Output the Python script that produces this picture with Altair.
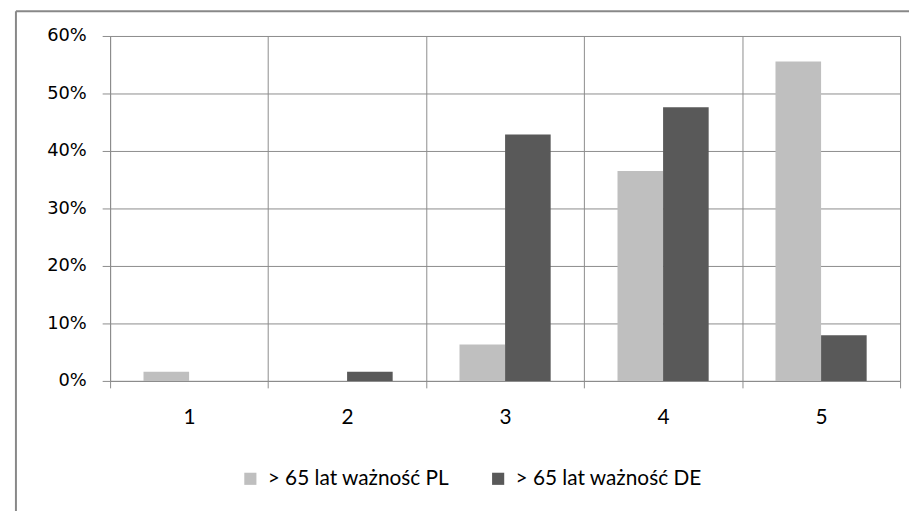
import altair as alt
import pandas as pd

categories = ["1", "2", "3", "4", "5"]
series = ["> 65 lat ważność PL", "> 65 lat ważność DE"]
pl_values = [0.0159, 0.0, 0.0635, 0.3651, 0.5556]
de_values = [0.0, 0.0159, 0.4286, 0.4762, 0.0794]
colors = ["#BFBFBF", "#595959"]
y_ticks = [0.0, 0.1, 0.2, 0.3, 0.4, 0.5, 0.6]

rows = []
for c, p, d in zip(categories, pl_values, de_values):
    rows.append({"cat": c, "series": series[0], "value": p})
    rows.append({"cat": c, "series": series[1], "value": d})
df = pd.DataFrame(rows)

GRID = "#8C8C8C"

bars = alt.Chart(df).mark_bar().encode(
    x=alt.X(
        "cat:N",
        sort=categories,
        scale=alt.Scale(paddingInner=0, paddingOuter=0),
        axis=alt.Axis(
            title=None, labelAngle=0, tickBand="extent", grid=True,
            gridColor=GRID, gridOpacity=1, domainColor=GRID, tickColor=GRID,
            tickSize=7, labelPadding=19, labelFont="Lato", labelFontSize=21,
            labelColor="#000000",
        ),
    ),
    xOffset=alt.XOffset(
        "series:N", sort=series,
        scale=alt.Scale(paddingInner=0, paddingOuter=0.733),
    ),
    y=alt.Y(
        "value:Q",
        scale=alt.Scale(domain=[0, 0.6], nice=False),
        axis=alt.Axis(
            title=None, values=y_ticks, format=".0%", grid=True,
            gridColor=GRID, gridOpacity=1, domainColor=GRID, tickColor=GRID,
            tickSize=8, labelPadding=16, labelFont="DejaVu Sans",
            labelFontSize=18, labelColor="#000000",
        ),
    ),
    color=alt.Color(
        "series:N", sort=series,
        scale=alt.Scale(domain=series, range=colors),
        legend=alt.Legend(
            title=None, orient="none", direction="horizontal",
            legendX=131, legendY=436, symbolType="square", symbolSize=150,
            symbolStrokeWidth=0, labelFont="Lato", labelFontSize=21,
            labelColor="#000000", labelOffset=7, columnPadding=38,
            labelLimit=0,
        ),
    ),
)

frame_df = pd.DataFrame({"k": [0]})
frame_top = alt.Chart(frame_df).mark_rule(color="#888888", strokeWidth=2).encode(
    x=alt.value(-95), x2=alt.value(820), y=alt.value(-25)
)
frame_left = alt.Chart(frame_df).mark_rule(color="#888888", strokeWidth=2).encode(
    x=alt.value(-95), y=alt.value(-25), y2=alt.value(500)
)

chart = alt.layer(bars, frame_top, frame_left).properties(
    width=797,
    height=348,
    autosize=alt.AutoSizeParams(type="none"),
    padding={"left": 103, "top": 26, "right": 9, "bottom": 129},
).configure_view(stroke=GRID, strokeWidth=1).configure(background="white")

chart.save("out.html", embed_options={"renderer": "svg", "actions": False})
